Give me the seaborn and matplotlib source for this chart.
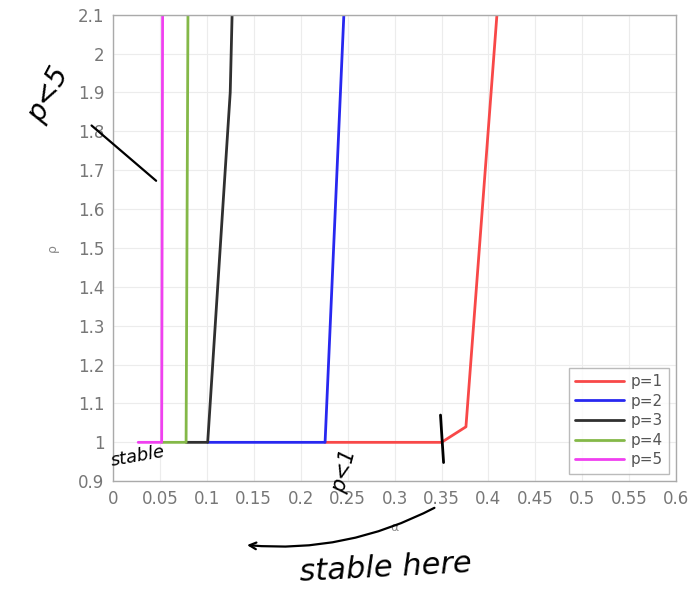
import numpy as np
import pandas as pd
import seaborn as sns
import matplotlib as mpl
import matplotlib.pyplot as plt

mpl.use('Agg')

# boundary curves, one per p (alpha, rho)
labels = ['p=1', 'p=2', 'p=3', 'p=4', 'p=5']
alpha_p1 = [0.226, 0.350, 0.376, 0.409]
rho_p1 = [1.0, 1.0, 1.04, 2.1]
alpha_p2 = [0.101, 0.226, 0.246]
rho_p2 = [1.0, 1.0, 2.1]
alpha_p3 = [0.078, 0.101, 0.125, 0.127]
rho_p3 = [1.0, 1.0, 1.9, 2.1]
alpha_p4 = [0.052, 0.078, 0.080]
rho_p4 = [1.0, 1.0, 2.1]
alpha_p5 = [0.027, 0.052, 0.053]
rho_p5 = [1.0, 1.0, 2.1]
colors = ['#f84848', '#2828f0', '#303030', '#84b848', '#f040f0']

xticks = np.round(np.arange(0, 0.601, 0.05), 2)
yticks = np.round(np.arange(0.9, 2.101, 0.1), 1)

frames = []
for lab, a, r in zip(labels,
                     [alpha_p1, alpha_p2, alpha_p3, alpha_p4, alpha_p5],
                     [rho_p1, rho_p2, rho_p3, rho_p4, rho_p5]):
    frames.append(pd.DataFrame({'alpha': a, 'rho': r, 'p': lab}))
df = pd.concat(frames, ignore_index=True)

sns.set_theme(style='whitegrid')
plt.rcParams['font.family'] = ['DejaVu Sans']

fig = plt.figure(figsize=(6.88, 5.89), dpi=100)
ax = fig.add_axes([0.164, 0.183, 0.819, 0.792])

sns.lineplot(data=df, x='alpha', y='rho', hue='p', palette=colors,
             sort=False, estimator=None, units='p', linewidth=2, ax=ax)

ax.set_xlim(0, 0.6)
ax.set_ylim(0.9, 2.1)
ax.set_xticks(xticks)
ax.set_xticklabels([f'{t:g}' for t in xticks])
ax.set_yticks(yticks)
ax.set_yticklabels([f'{t:g}' for t in yticks])
ax.tick_params(axis='both', colors='#777777', labelsize=12, direction='in',
               length=4, width=0.8, pad=6)
ax.grid(True, color='#ececec', linewidth=0.8)
for s in ax.spines.values():
    s.set_color('#aaaaaa')
    s.set_linewidth(1)
ax.set_facecolor('white')
ax.set_xlabel('α', color='#888888', fontsize=9, labelpad=10)
ax.set_ylabel('ρ', color='#888888', fontsize=9, labelpad=14)

leg = ax.legend(loc='lower right', fontsize=11, frameon=True,
                fancybox=False, edgecolor='#aaaaaa', handlelength=3.2,
                borderaxespad=0.5, labelspacing=0.3, handletextpad=0.4)
for t in leg.get_texts():
    t.set_color('#555555')

# handwritten notes on the scan
ink = dict(color='black', fontstyle='italic', family=['DejaVu Sans'])
fig.text(0.07, 0.84, 'p<5', fontsize=20, rotation=62, ha='center',
         va='center', **ink)
ax.annotate('', xy=(0.13, 0.79), xytext=(0.23, 0.69),
            xycoords='figure fraction', textcoords='figure fraction',
            annotation_clip=False,
            arrowprops=dict(arrowstyle='-', color='black', lw=1.6))
fig.text(0.20, 0.225, 'stable', fontsize=13, rotation=10, ha='center',
         va='center', **ink)
fig.text(0.50, 0.20, 'p<1', fontsize=15, rotation=75, ha='center',
         va='center', **ink)
fig.text(0.56, 0.035, 'stable here', fontsize=22, rotation=3, ha='center',
         va='center', **ink)
ax.annotate('', xy=(0.355, 0.075), xytext=(0.635, 0.14),
            xycoords='figure fraction', textcoords='figure fraction',
            annotation_clip=False,
            arrowprops=dict(arrowstyle='->', color='black', lw=1.6,
                            connectionstyle='arc3,rad=-0.15'))
ax.annotate('', xy=(0.64, 0.30), xytext=(0.645, 0.21),
            xycoords='figure fraction', textcoords='figure fraction',
            annotation_clip=False,
            arrowprops=dict(arrowstyle='-', color='black', lw=2))

plt.savefig('out.png', dpi=100)
